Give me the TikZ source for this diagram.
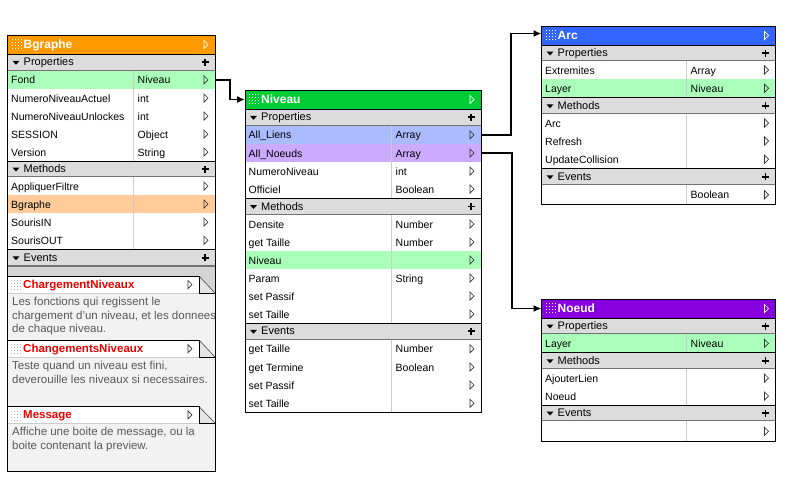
\documentclass[tikz,border=0pt]{standalone}
\usepackage{fontspec}
\setmainfont{Liberation Sans}
\usepackage{tikz}
\usetikzlibrary{arrows.meta}

\definecolor{bgorange}{RGB}{255,153,0}
\definecolor{nvgreen}{RGB}{0,204,51}
\definecolor{arcblue}{RGB}{51,102,255}
\definecolor{ndpurple}{RGB}{136,0,221}
\definecolor{rowgreen}{RGB}{170,255,187}
\definecolor{roworange}{RGB}{255,204,153}
\definecolor{rowblue}{RGB}{170,187,255}
\definecolor{rowpurple}{RGB}{204,170,255}
\definecolor{headgray}{RGB}{220,220,220}
\definecolor{bandgray}{RGB}{212,212,212}
\definecolor{notegray}{RGB}{242,242,242}
\definecolor{notered}{RGB}{238,0,0}

% title bar: left, right, top, bottom, colour, name, label
\newcommand{\classtitle}[7]{%
  \node[titlebox, fill=#5, minimum width={#2-#1}, minimum height={#4-#3}, anchor=north west] (#6) at (#1,#3) {};
  \foreach \i in {0,...,3}{\foreach \j in {0,...,3}{\fill[white] (#1+4+3*\i,#3+4+3*\j) rectangle ++(1,1);}}
  \node[titletext] at (#1+16,{(#3+#4)/2+4}) {#7};
  \draw[tri, white] (#2-11,{(#3+#4)/2-4}) -- ++(4,4) -- ++(-4,4) -- cycle;
}
% section header: left, right, top, bottom, label
\newcommand{\classhead}[5]{%
  \fill[headgray] (#1,#3) rectangle (#2,#4);
  \draw (#1,#3) -- (#2,#3);
  \draw[headline] (#1,#4) -- (#2,#4);
  \fill (#1+5,{(#3+#4)/2-1.5}) -- ++(7,0) -- ++(-3.5,4) -- cycle;
  \node[headtext] at (#1+16,{(#3+#4)/2+3.5}) {#5};
  \draw[line width=1.8pt] (#2-10,{(#3+#4)/2-3.5}) -- ++(0,7) (#2-13.5,{(#3+#4)/2}) -- ++(7,0);
}
% row: left, right, divider, top, bottom, fill, name, label, type
\newcommand{\classrow}[9]{%
  \node[rowbox, fill=#6, minimum width={#2-#1}, minimum height={#5-#4}, anchor=north west] (#7) at (#1,#4) {};
  \draw[rowline] (#3,#4) -- (#3,#5) (#1,#5) -- (#2,#5);
  \node[rowtext] at (#1+3.5,{(#4+#5)/2+4}) {#8};
  \node[rowtext] at (#3+4.5,{(#4+#5)/2+4}) {#9};
  \draw[tri] (#2-11,{(#4+#5)/2-4}) -- ++(4,4) -- ++(-4,4) -- cycle;
}
% event note: top, head bottom, body bottom, corner colour, title, text
\newcommand{\classnote}[6]{%
  \fill[notegray] (7.5,#2) rectangle (215,#3);
  \fill[white] (7.5,#1) rectangle (199,#2);
  \fill[#4] (199,#1) rectangle (215,#2);
  \fill[black!10] (199,#1) -- (215,#2) -- (199,#2) -- cycle;
  \draw[black!70, line width=.6pt] (199,#1) -- (215,#2);
  \draw[rowline] (7.5,#2) -- (199,#2);
  \draw (7.5,#1) -- (199,#1) -- (199,#2) -- (215,#2);
  \foreach \i in {0,...,3}{\foreach \j in {0,...,3}{\fill[black!30] (11+3*\i,#1+4+3*\j) rectangle ++(1,1);}}
  \node[notetitle] at (23,{(#1+#2)/2+3.5}) {#5};
  \draw[tri] (188,{(#1+#2)/2-4}) -- ++(4,4) -- ++(-4,4) -- cycle;
  \node[notetext] at (12,#2+4) {#6};
}

\begin{document}
\begin{tikzpicture}[x=1pt, y=-1pt,
    titlebox/.style={draw=black, line width=1pt, inner sep=0pt, outer sep=0pt},
    titletext/.style={anchor=base west, inner sep=0pt, text=white, font=\fontsize{12}{14}\selectfont\bfseries},
    headtext/.style={anchor=base west, inner sep=0pt, font=\fontsize{11}{13}\selectfont},
    headline/.style={black!55, line width=1.3pt},
    rowbox/.style={draw=none, inner sep=0pt, outer sep=0pt},
    rowline/.style={black!20, line width=.8pt},
    rowtext/.style={anchor=base west, inner sep=0pt, font=\fontsize{10.5}{12}\selectfont},
    tri/.style={line width=.7pt, black!80},
    notetitle/.style={anchor=base west, inner sep=0pt, text=notered, font=\fontsize{11.5}{13}\selectfont\bfseries},
    notetext/.style={anchor=north west, inner sep=0pt, align=left, text=black!65, font=\fontsize{11.5}{13.5}\selectfont},
    link/.style={line width=1.6pt, -{Latex[length=8pt,width=7pt]}}]
  \useasboundingbox[fill=white] (0,0) rectangle (786,480);

  % Bgraphe
  \classtitle{7.5}{215}{35}{54}{bgorange}{bgraphe}{Bgraphe}
  \classhead{7.5}{215}{54}{70.5}{Properties}
  \classrow{7.5}{215}{133}{70.5}{89}{rowgreen}{bg-fond}{Fond}{Niveau}
  \classrow{7.5}{215}{133}{89}{107}{white}{bg-actuel}{NumeroNiveauActuel}{int}
  \classrow{7.5}{215}{133}{107}{125}{white}{bg-unlock}{NumeroNiveauUnlockes}{int}
  \classrow{7.5}{215}{133}{125}{143}{white}{bg-session}{SESSION}{Object}
  \classrow{7.5}{215}{133}{143}{161}{white}{bg-version}{Version}{String}
  \classhead{7.5}{215}{161}{177}{Methods}
  \classrow{7.5}{215}{133}{177}{195}{white}{bg-filtre}{AppliquerFiltre}{}
  \classrow{7.5}{215}{133}{195}{213}{roworange}{bg-bgraphe}{Bgraphe}{}
  \classrow{7.5}{215}{133}{213}{231}{white}{bg-in}{SourisIN}{}
  \classrow{7.5}{215}{133}{231}{249.5}{white}{bg-out}{SourisOUT}{}
  \classhead{7.5}{215}{249.5}{266}{Events}
  \fill[bandgray] (7.5,267) rectangle (215,276);
  \classnote{276}{293}{340}{bandgray}{ChargementNiveaux}{Les fonctions qui regissent le\\chargement d'un niveau, et les donnees\\de chaque niveau.}
  \classnote{340}{357}{406.5}{notegray}{ChangementsNiveaux}{Teste quand un niveau est fini,\\deverouille les niveaux si necessaires.}
  \classnote{406.5}{423}{471.5}{notegray}{Message}{Affiche une boite de message, ou la\\boite contenant la preview.}
  \draw (7.5,35) rectangle (215,471.5);

  % Niveau
  \classtitle{245}{481}{90}{109}{nvgreen}{niveau}{Niveau}
  \classhead{245}{481}{109}{125.5}{Properties}
  \classrow{245}{481}{391}{125.5}{144}{rowblue}{nv-liens}{All\_Liens}{Array}
  \classrow{245}{481}{391}{144}{162}{rowpurple}{nv-noeuds}{All\_Noeuds}{Array}
  \classrow{245}{481}{391}{162}{180}{white}{nv-numero}{NumeroNiveau}{int}
  \classrow{245}{481}{391}{180}{198}{white}{nv-officiel}{Officiel}{Boolean}
  \classhead{245}{481}{198}{215}{Methods}
  \classrow{245}{481}{391}{215}{233}{white}{nv-densite}{Densite}{Number}
  \classrow{245}{481}{391}{233}{251}{white}{nv-gettaille}{get Taille}{Number}
  \classrow{245}{481}{391}{251}{269}{rowgreen}{nv-niveau}{Niveau}{}
  \classrow{245}{481}{391}{269}{287}{white}{nv-param}{Param}{String}
  \classrow{245}{481}{391}{287}{305}{white}{nv-setpassif}{set Passif}{}
  \classrow{245}{481}{391}{305}{323}{white}{nv-settaille}{set Taille}{}
  \classhead{245}{481}{323}{339.5}{Events}
  \classrow{245}{481}{391}{339.5}{358}{white}{nv-ev-gettaille}{get Taille}{Number}
  \classrow{245}{481}{391}{358}{376}{white}{nv-ev-termine}{get Termine}{Boolean}
  \classrow{245}{481}{391}{376}{394}{white}{nv-ev-setpassif}{set Passif}{}
  \classrow{245}{481}{391}{394}{412.5}{white}{nv-ev-settaille}{set Taille}{}
  \draw (245,90) rectangle (481,412.5);

  % Arc
  \classtitle{541.5}{775.5}{26}{45}{arcblue}{arc}{Arc}
  \classhead{541.5}{775.5}{45}{61}{Properties}
  \classrow{541.5}{775.5}{686}{61}{79}{white}{arc-extremites}{Extremites}{Array}
  \classrow{541.5}{775.5}{686}{79}{97.5}{rowgreen}{arc-layer}{Layer}{Niveau}
  \classhead{541.5}{775.5}{97.5}{114}{Methods}
  \classrow{541.5}{775.5}{686}{114}{132}{white}{arc-arc}{Arc}{}
  \classrow{541.5}{775.5}{686}{132}{150}{white}{arc-refresh}{Refresh}{}
  \classrow{541.5}{775.5}{686}{150}{168.5}{white}{arc-collision}{UpdateCollision}{}
  \classhead{541.5}{775.5}{168.5}{185}{Events}
  \classrow{541.5}{775.5}{686}{185}{204.5}{white}{arc-event}{}{Boolean}
  \draw (541.5,26) rectangle (775.5,204.5);

  % Noeud
  \classtitle{541.5}{775.5}{299}{318}{ndpurple}{noeud}{Noeud}
  \classhead{541.5}{775.5}{318}{334}{Properties}
  \classrow{541.5}{775.5}{686}{334}{352.5}{rowgreen}{nd-layer}{Layer}{Niveau}
  \classhead{541.5}{775.5}{352.5}{369}{Methods}
  \classrow{541.5}{775.5}{686}{369}{387}{white}{nd-ajouter}{AjouterLien}{}
  \classrow{541.5}{775.5}{686}{387}{405}{white}{nd-noeud}{Noeud}{}
  \classhead{541.5}{775.5}{405}{421}{Events}
  \classrow{541.5}{775.5}{686}{421}{441.5}{white}{nd-event}{}{}
  \draw (541.5,299) rectangle (775.5,441.5);

  \draw[link] (bg-fond.east) -- ++(15,0) |- (niveau.west);
  \draw[link] (nv-liens.east) -- ++(30,0) |- ([yshift=2pt]arc.west);
  \draw[link] (nv-noeuds.east) -- ++(31,0) |- (noeud.west);
\end{tikzpicture}
\end{document}
